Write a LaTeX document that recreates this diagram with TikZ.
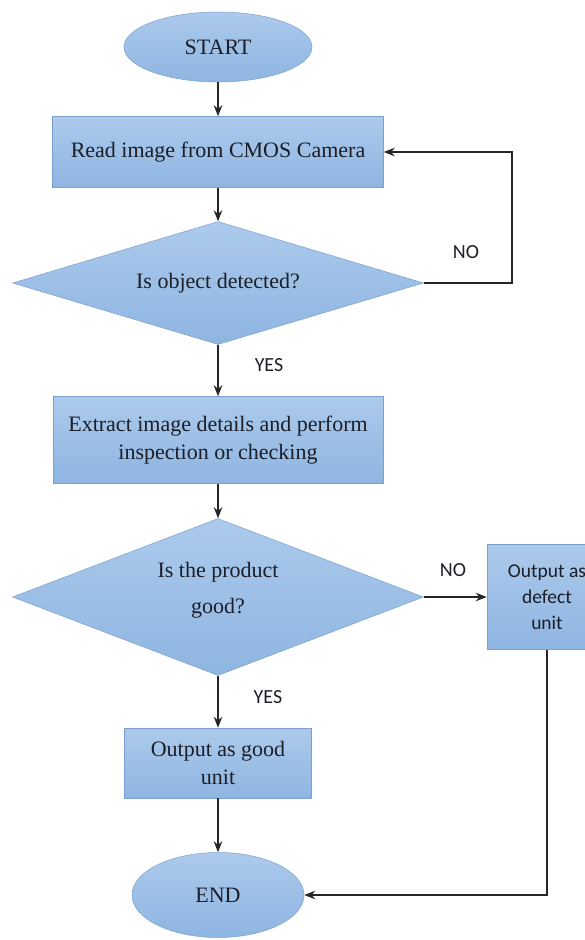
\documentclass[tikz,border=0pt]{standalone}
\usepackage{fontspec}
\setmainfont{Liberation Serif}
\newfontfamily\labelfont{Carlito}
\usetikzlibrary{shapes.geometric,arrows.meta}
\definecolor{boxtop}{RGB}{172,202,236}
\definecolor{boxbottom}{RGB}{142,181,225}
\definecolor{boxline}{RGB}{124,160,205}
\definecolor{textdark}{RGB}{28,30,40}

\begin{document}
\begin{tikzpicture}[x=1pt,y=-1pt]
	\tikzstyle{shade} = [draw=boxline, line width=0.5pt, top color=boxtop, bottom color=boxbottom, text=textdark]
	\tikzstyle{serif} = [font=\fontsize{22}{28}\selectfont, align=center]
	\tikzstyle{process} = [shade, serif, rectangle, inner sep=0]
	\tikzstyle{decision} = [shade, serif, diamond, inner sep=0]
	\tikzstyle{terminal} = [shade, serif, ellipse, inner sep=0]
	\tikzstyle{answer} = [font=\labelfont\fontsize{20}{24}\selectfont, text=textdark, inner sep=0]
	\tikzstyle{arrow} = [-{Stealth[length=11pt,width=8.5pt]}, line width=1.5pt, black!85]
	\useasboundingbox (0,0) rectangle (585,940);
	\clip (0,0) rectangle (585,940);

	\node [terminal, minimum width=188pt, minimum height=70pt] (start) at (218,47) {START};
	\node [process, minimum width=331pt, minimum height=71pt] (read) at (218,152) {Read image from CMOS Camera};
	\node [decision, aspect=3.34, minimum width=411pt, minimum height=123pt] (detect) at (218,283) {Is object detected?};
	\node [process, minimum width=330pt, minimum height=87pt] (extract) at (218,440) {Extract image details and perform\\inspection or checking};
	\node [decision, aspect=2.62, minimum width=411pt, minimum height=157pt] (check) at (218,597) {Is the product\\[8pt]good?\\[-10pt]};
	\node [process, font=\labelfont\fontsize{19.5}{26}\selectfont, minimum width=120pt, minimum height=105pt] (defect) at (547,597) {Output as\\defect\\unit};
	\node [process, minimum width=187pt, minimum height=70pt] (good) at (218,763) {Output as good\\unit};
	\node [terminal, minimum width=172pt, minimum height=85pt] (end) at (218,895) {END};
	\coordinate (loop) at (512,283);

	\draw [arrow] (start) -- (read);
	\draw [arrow] (read) -- (detect);
	\draw [arrow] (detect.east) -- (loop) |- (read.east);
	\draw [arrow] (detect) -- (extract);
	\draw [arrow] (extract) -- (check);
	\draw [arrow] (check.east) -- (defect.west);
	\draw [arrow] (check) -- (good);
	\draw [arrow] (good) -- (end);
	\draw [arrow] (defect.south) |- (end.east);

	\node [answer] (no1) at (466,252) {NO};
	\node [answer] (yes1) at (269,365) {YES};
	\node [answer] (no2) at (453,570) {NO};
	\node [answer] (yes2) at (268,697) {YES};
\end{tikzpicture}
\end{document}
